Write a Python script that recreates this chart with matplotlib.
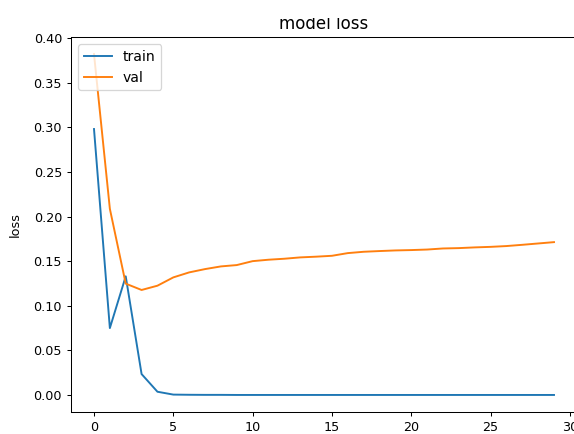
import matplotlib
matplotlib.use("Agg")
import matplotlib.pyplot as plt
from matplotlib.transforms import Bbox, TransformedBbox

epochs = list(range(30))
train_loss = [0.298, 0.075, 0.133, 0.0235, 0.0037, 0.0005, 0.0003, 0.0002, 0.0002, 0.0001,
              0.0001, 0.0001, 0.0001, 0.0001, 0.0001, 0.0001, 0.0001, 0.0001, 0.0001, 0.0001,
              0.0001, 0.0001, 0.0001, 0.0001, 0.0001, 0.0001, 0.0001, 0.0001, 0.0001, 0.0001]
val_loss = [0.382, 0.2086, 0.1248, 0.1177, 0.1225, 0.1318, 0.1374, 0.1411, 0.1441, 0.1456,
            0.1500, 0.1516, 0.1527, 0.1542, 0.1550, 0.1560, 0.1590, 0.1605, 0.1613, 0.1620,
            0.1624, 0.1630, 0.1642, 0.1646, 0.1654, 0.1660, 0.1669, 0.1683, 0.1698, 0.1713]
series_names = ["train", "val"]

DPI = 92
W, H = 574, 434
fig = plt.figure(figsize=(W / DPI, H / DPI), dpi=DPI)
ax = fig.add_axes([71 / W, 22 / H, 506 / W, 375 / H])
ax.plot(epochs, train_loss, label=series_names[0])
ax.plot(epochs, val_loss, label=series_names[1])
title = ax.set_title("model loss", fontsize=13)
# the reference image has the top of the title cropped away
title.set_clip_box(TransformedBbox(Bbox.from_extents(0, 0, 1, (H - 18) / H), fig.transFigure))
title.set_clip_on(True)
ax.set_ylabel("loss", labelpad=9)
ax.legend(loc="upper left", fontsize=11)
fig.savefig("out.png", dpi=DPI)
